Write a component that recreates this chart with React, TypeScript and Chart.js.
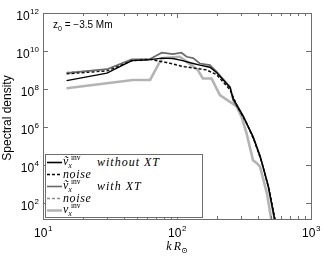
import React, { useEffect, useRef } from "react";
import { Chart, registerables } from "chart.js";

Chart.register(...registerables);

// ---- data ----
const kWithoutXT = [15, 30, 46, 61, 77, 93, 108, 132, 148, 176, 198, 249, 262, 311, 369, 416, 480, 540];
const sWithoutXT = [2.75e8, 6.8e8, 3.1e9, 3.4e9, 4.2e9, 4.0e9, 3.2e9, 2.2e9, 1.8e9, 1.4e9, 7.1e8, 1.2e8, 3.2e7, 4.0e6, 3.2e5, 3.2e4, 800, 10];

const kNoiseWithout = [15, 30, 46, 63, 89, 111, 140, 166, 198, 249, 280, 330, 380, 430, 490, 545];
const sNoiseWithout = [6.2e8, 8.9e8, 3.0e9, 3.6e9, 2.2e9, 1.5e9, 1.2e9, 1.0e9, 5.5e8, 8.9e7, 1.3e7, 1.6e6, 1.6e5, 1.3e4, 400, 10];

const kWithXT = [15, 30, 46, 62, 77, 93, 108, 118, 132, 148, 176, 198, 249, 262, 311, 369, 416, 428, 480, 538];
const sWithXT = [6.8e8, 1.1e9, 3.6e9, 3.6e9, 8.1e9, 6.9e9, 8.1e9, 5.0e9, 4.2e9, 2.2e9, 1.8e9, 8.1e8, 1.3e8, 2.6e7, 3.5e6, 3.1e5, 2.8e4, 1.5e4, 720, 10];

const kNoiseWith = [15, 30, 46, 63, 89, 111, 140, 166, 198, 249, 280, 330, 380, 430, 490, 545];
const sNoiseWith = [7.6e8, 1.05e9, 3.3e9, 4.0e9, 2.4e9, 1.6e9, 1.3e9, 1.05e9, 6.0e8, 1.0e8, 1.4e7, 1.8e6, 1.8e5, 1.4e4, 450, 10];

const kVx = [15, 47, 63, 77, 105, 118, 143, 156, 181, 209, 279, 303, 330, 369, 394, 416, 468, 509];
const sVx = [1.1e8, 3.0e8, 3.0e8, 4.2e9, 5.0e9, 2.75e9, 1.0e9, 3.6e8, 3.6e8, 4.8e7, 1.2e7, 3.5e6, 4.8e5, 1.8e4, 1.26e4, 8.1e3, 340, 10];

const xTickExps = [1, 2, 3];
const yTickExps = [2, 4, 6, 8, 10, 12];
const xMinorTicks = [20, 30, 40, 50, 60, 70, 80, 90, 200, 300, 400, 500, 600, 700, 800, 900];

const X_MIN = 10;
const X_MAX = 1000;
const Y_MIN = 14.4;
const Y_MAX = 1e12;

const zip = (ks: number[], vs: number[]) => ks.map((k, i) => ({ x: k, y: vs[i] }));

const SANS = "'Liberation Sans', Arial, Helvetica, sans-serif";
const SERIF = "'Liberation Serif', 'DejaVu Serif', 'Times New Roman', serif";

const axesPlugin = {
  id: "matlabAxes",
  afterDraw(chart: any) {
    const { ctx, chartArea, scales } = chart;
    const { left, right, top, bottom } = chartArea;
    const xs = scales.x;
    const ys = scales.y;
    ctx.save();
    ctx.strokeStyle = "#6e6e6e";
    ctx.lineWidth = 1;
    // box
    ctx.strokeRect(Math.round(left) + 0.5, Math.round(top) + 0.5, Math.round(right - left), Math.round(bottom - top));
    // x ticks
    const drawXTick = (v: number, len: number) => {
      const px = Math.round(xs.getPixelForValue(v)) + 0.5;
      ctx.beginPath();
      ctx.moveTo(px, bottom);
      ctx.lineTo(px, bottom - len);
      ctx.moveTo(px, top);
      ctx.lineTo(px, top + len);
      ctx.stroke();
    };
    xTickExps.forEach((e) => drawXTick(Math.pow(10, e), 5));
    xMinorTicks.forEach((v) => drawXTick(v, 3));
    yTickExps.forEach((e) => {
      const py = Math.round(ys.getPixelForValue(Math.pow(10, e))) + 0.5;
      ctx.beginPath();
      ctx.moveTo(left, py);
      ctx.lineTo(left + 5, py);
      ctx.moveTo(right, py);
      ctx.lineTo(right - 5, py);
      ctx.stroke();
    });

    // tick labels
    ctx.fillStyle = "#000";
    ctx.textBaseline = "alphabetic";
    const baseFont = `12px ${SANS}`;
    const supFont = `8px ${SANS}`;
    yTickExps.forEach((e) => {
      const py = ys.getPixelForValue(Math.pow(10, e));
      ctx.font = supFont;
      const sw = ctx.measureText(String(e)).width;
      ctx.font = baseFont;
      const bw = ctx.measureText("10").width;
      const rightEdge = 39;
      ctx.textAlign = "left";
      ctx.fillText("10", rightEdge - sw - bw - 0.5, py + 7);
      ctx.font = supFont;
      ctx.fillText(String(e), rightEdge - sw, py + 0.5);
    });
    xTickExps.forEach((e) => {
      const px = xs.getPixelForValue(Math.pow(10, e));
      ctx.font = supFont;
      const sw = ctx.measureText(String(e)).width;
      ctx.font = baseFont;
      const bw = ctx.measureText("10").width;
      const start = px - (bw + sw) / 2;
      ctx.textAlign = "left";
      ctx.fillText("10", start, bottom + 18);
      ctx.font = supFont;
      ctx.fillText(String(e), start + bw + 0.5, bottom + 12);
    });

    // y title
    ctx.save();
    ctx.translate(11, (top + bottom) / 2 + 2);
    ctx.rotate(-Math.PI / 2);
    ctx.font = `12px ${SANS}`;
    ctx.textAlign = "center";
    ctx.fillText("Spectral density", 0, 0);
    ctx.restore();

    // x title  kR_⊙
    ctx.font = `italic 12px ${SERIF}`;
    ctx.textAlign = "left";
    const kw = ctx.measureText("k").width;
    const rw = ctx.measureText("R").width;
    ctx.font = `8px ${SERIF}`;
    const ow = ctx.measureText("\u2299").width;
    const total = kw + 2 + rw + ow;
    const cx = xs.getPixelForValue(100);
    let sx = cx - total / 2;
    ctx.font = `italic 12px ${SERIF}`;
    ctx.fillText("k", sx, bottom + 31);
    sx += kw + 2;
    ctx.fillText("R", sx, bottom + 31);
    sx += rw;
    ctx.font = `8px ${SERIF}`;
    ctx.fillText("\u2299", sx, bottom + 34);

    // annotation z_0 = -3.5 Mm
    ctx.font = `10px ${SANS}`;
    let ax = 53;
    ctx.fillText("z", ax, 28);
    ax += ctx.measureText("z").width;
    ctx.font = `7px ${SANS}`;
    ctx.fillText("0", ax, 31);
    ax += ctx.measureText("0").width;
    ctx.font = `10px ${SANS}`;
    ctx.fillText(" = \u22123.5 Mm", ax, 28);
    ctx.restore();
  },
};

const Sub: React.FC<{ tilde?: boolean }> = ({ tilde }) => (
  <span style={{ display: "inline-block", position: "relative", width: 20, height: 12, verticalAlign: "top" }}>
    <span style={{ position: "absolute", left: 0, top: -1, fontStyle: "italic", fontSize: 12 }}>{tilde ? "\u1E7D" : "v"}</span>
    <span style={{ position: "absolute", left: 8, top: -4, fontSize: 7.5 }}>inv</span>
    <span style={{ position: "absolute", left: 5.5, top: 4, fontSize: 7.5, fontStyle: "italic" }}>x</span>
  </span>
);

const legendRows: { color: string; width: number; dash: string; label: React.ReactNode }[] = [
  {
    color: "#000",
    width: 1.6,
    dash: "",
    label: (
      <>
        <Sub tilde />
        <span style={{ fontStyle: "italic", letterSpacing: 1.0, marginLeft: 14 }}>without XT</span>
      </>
    ),
  },
  { color: "#000", width: 1.3, dash: "3 2", label: <span style={{ fontStyle: "italic", letterSpacing: 0.6 }}>noise</span> },
  {
    color: "#6a6a6a",
    width: 1.6,
    dash: "",
    label: (
      <>
        <Sub tilde />
        <span style={{ fontStyle: "italic", letterSpacing: 1.0, marginLeft: 14 }}>with XT</span>
      </>
    ),
  },
  { color: "#8a8a8a", width: 1.3, dash: "3 2", label: <span style={{ fontStyle: "italic", letterSpacing: 0.6 }}>noise</span> },
  { color: "#b4b4b4", width: 2.6, dash: "", label: <Sub /> },
];

export default function App() {
  const canvasRef = useRef<HTMLCanvasElement | null>(null);

  useEffect(() => {
    if (!canvasRef.current) return;
    const chart = new Chart(canvasRef.current, {
      type: "line",
      data: {
        datasets: [
          { label: "without XT", data: zip(kWithoutXT, sWithoutXT), borderColor: "#000", borderWidth: 1.4, pointRadius: 0, tension: 0, order: 2 },
          { label: "noise", data: zip(kNoiseWithout, sNoiseWithout), borderColor: "#000", borderWidth: 1.2, borderDash: [3, 2], pointRadius: 0, tension: 0, order: 1 },
          { label: "with XT", data: zip(kWithXT, sWithXT), borderColor: "#6a6a6a", borderWidth: 1.7, pointRadius: 0, tension: 0, order: 3 },
          { label: "noise", data: zip(kNoiseWith, sNoiseWith), borderColor: "#8a8a8a", borderWidth: 1.2, borderDash: [3, 2], pointRadius: 0, tension: 0, order: 4 },
          { label: "vx inv", data: zip(kVx, sVx), borderColor: "#b4b4b4", borderWidth: 2.6, pointRadius: 0, tension: 0, order: 5 },
        ],
      },
      options: {
        animation: false,
        responsive: false,
        maintainAspectRatio: false,
        parsing: false as any,
        layout: { padding: { left: 43, top: 13, right: 16, bottom: 38 } },
        plugins: { legend: { display: false }, tooltip: { enabled: false } },
        scales: {
          x: { type: "logarithmic", min: X_MIN, max: X_MAX, display: false },
          y: { type: "logarithmic", min: Y_MIN, max: Y_MAX, display: false },
        },
      },
      plugins: [axesPlugin],
    });
    return () => chart.destroy();
  }, []);

  return (
    <div style={{ position: "absolute", left: 0, top: 0, width: 327, height: 257, background: "#fff" }}>
      <canvas ref={canvasRef} width={327} height={257} style={{ display: "block" }} />
      <div
        style={{
          position: "absolute",
          left: 45,
          top: 154,
          width: 158,
          height: 64,
          boxSizing: "border-box",
          border: "1px solid #6e6e6e",
          background: "#fff",
          fontFamily: SERIF,
          fontSize: 12,
          color: "#000",
        }}
      >
        {legendRows.map((r, i) => (
          <div key={i} style={{ position: "absolute", left: 1, top: 1 + i * 12, height: 12, whiteSpace: "nowrap", lineHeight: "12px" }}>
            <svg width={15} height={12} style={{ position: "absolute", left: 0, top: 0 }}>
              <line x1={0} y1={6.5} x2={15} y2={6.5} stroke={r.color} strokeWidth={r.width} strokeDasharray={r.dash || undefined} />
            </svg>
            <span style={{ position: "absolute", left: 16, top: 0 }}>{r.label}</span>
          </div>
        ))}
      </div>
    </div>
  );
}
